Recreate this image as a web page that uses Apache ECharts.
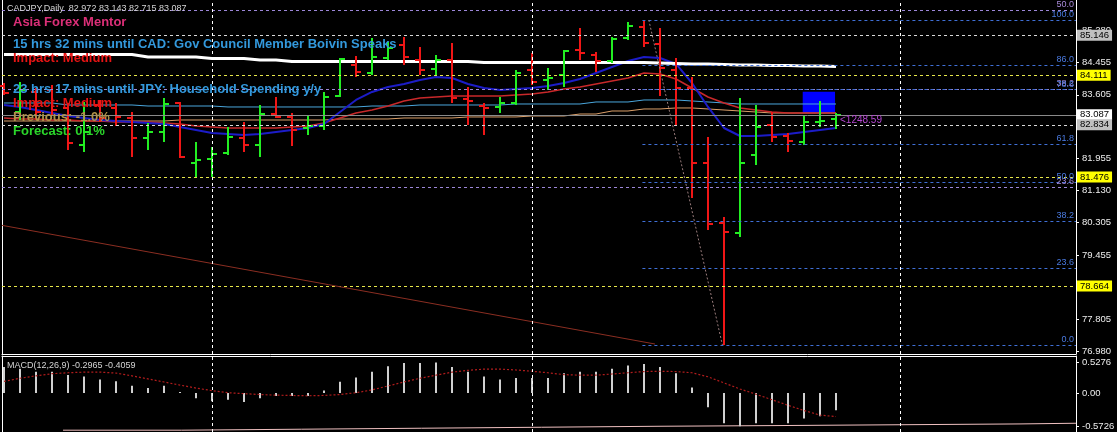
<!DOCTYPE html>
<html><head><meta charset="utf-8">
<script src="https://cdn.jsdelivr.net/npm/echarts@6/dist/echarts.min.js"></script>
<style>html,body{margin:0;padding:0;background:#000;}#c{width:1117px;height:432px;}</style>
</head><body><div id="c"></div>
<script>
// ---------- DATA ----------
const opens  = [83.835,83.162,83.680,83.731,83.266,82.309,83.343,83.266,83.007,82.490,82.645,83.395,81.843,81.946,82.102,82.490,82.309,83.110,83.033,82.748,82.800,83.576,84.378,84.171,84.559,84.895,84.507,84.274,84.507,83.498,83.317,83.292,83.395,84.249,83.990,84.119,84.766,84.637,84.481,85.076,85.361,84.921,84.249,83.783,81.843,80.291,80.032,82.050,82.826,82.541,82.386,82.904,82.972];
const highs  = [83.912,83.938,83.783,83.861,83.395,83.421,83.473,83.395,83.162,82.878,83.524,83.421,82.386,82.257,82.774,82.904,83.343,83.550,83.136,83.085,83.680,84.559,84.611,85.076,84.973,85.102,84.844,84.637,84.947,83.809,83.395,83.550,84.249,84.688,84.300,84.766,85.335,84.714,85.102,85.490,85.542,85.335,84.559,84.068,82.516,80.446,83.524,83.343,83.162,82.619,83.085,83.447,83.143];
const lows   = [83.602,82.955,82.955,83.085,82.179,82.128,82.904,82.800,81.998,82.179,82.386,81.972,81.455,81.481,82.050,82.128,81.998,83.007,82.283,82.567,82.697,83.550,84.068,84.119,84.507,84.378,84.119,84.119,83.395,82.826,82.567,83.136,83.343,83.861,83.731,83.809,84.507,84.197,84.430,85.025,84.844,83.576,82.826,80.938,80.110,77.135,79.929,81.791,82.386,82.128,82.309,82.774,82.715];
const closes = [83.654,83.731,83.162,83.214,82.360,82.645,83.007,83.033,82.490,82.645,83.369,81.998,81.921,82.076,82.516,82.309,83.110,83.033,82.697,82.800,83.550,84.533,84.197,84.585,84.818,84.585,84.249,84.507,83.524,83.447,83.266,83.395,84.171,83.938,84.042,84.740,84.688,84.481,85.051,85.387,84.947,84.300,83.783,81.843,80.265,80.058,81.843,82.774,82.516,82.412,82.904,82.929,83.087];

const maWhite  = [84.650,84.650,84.650,84.650,84.650,84.650,84.650,84.650,84.650,84.585,84.585,84.585,84.585,84.546,84.546,84.546,84.507,84.507,84.469,84.469,84.469,84.469,84.469,84.469,84.469,84.469,84.469,84.469,84.469,84.469,84.443,84.443,84.443,84.443,84.443,84.443,84.443,84.443,84.443,84.443,84.443,84.430,84.417,84.404,84.404,84.391,84.378,84.378,84.365,84.365,84.352,84.352,84.339];
const maBlue   = [83.343,83.292,83.214,83.136,83.059,83.007,82.955,82.929,82.904,82.878,82.852,82.774,82.697,82.619,82.593,82.567,82.593,82.645,82.697,82.748,82.852,83.162,83.473,83.680,83.809,83.886,83.990,84.068,84.042,83.886,83.783,83.731,83.757,83.783,83.835,83.912,84.016,84.171,84.326,84.481,84.585,84.559,84.404,83.912,83.292,82.748,82.541,82.541,82.567,82.593,82.645,82.697,82.748];
const maRed    = [83.007,82.981,82.981,82.955,82.955,82.929,82.929,82.904,82.904,82.904,82.878,82.852,82.800,82.774,82.748,82.748,82.748,82.748,82.774,82.800,82.878,83.007,83.136,83.214,83.317,83.447,83.524,83.550,83.576,83.576,83.576,83.576,83.602,83.628,83.680,83.757,83.809,83.886,83.964,84.042,84.171,84.145,84.016,83.783,83.550,83.395,83.266,83.214,83.162,83.136,83.136,83.136,83.136];
const maCyan   = [83.395,83.395,83.395,83.395,83.343,83.343,83.343,83.343,83.343,83.317,83.317,83.317,83.317,83.317,83.292,83.292,83.292,83.292,83.292,83.292,83.292,83.292,83.292,83.317,83.317,83.317,83.343,83.343,83.343,83.343,83.343,83.343,83.369,83.369,83.369,83.369,83.369,83.421,83.421,83.421,83.473,83.473,83.473,83.447,83.421,83.395,83.369,83.369,83.369,83.369,83.369,83.369,83.369];
const maOrange = [82.929,82.929,82.929,82.929,82.929,82.929,82.929,82.929,82.929,82.929,82.929,82.955,82.955,82.955,82.955,82.955,82.955,82.955,82.955,82.955,82.955,82.981,82.981,82.981,82.981,83.007,83.007,83.007,83.007,83.033,83.033,83.033,83.033,83.059,83.059,83.059,83.110,83.110,83.188,83.188,83.240,83.240,83.266,83.266,83.240,83.214,83.188,83.162,83.136,83.136,83.136,83.136,83.136];

const macdHist   = [0.447,0.420,0.366,0.366,0.312,0.286,0.231,0.204,0.124,0.086,0.124,0.016,-0.089,-0.140,-0.114,-0.156,-0.089,-0.052,-0.052,-0.052,0.043,0.194,0.269,0.366,0.463,0.517,0.517,0.5276,0.447,0.366,0.286,0.231,0.259,0.259,0.259,0.339,0.366,0.366,0.420,0.474,0.500,0.447,0.339,0.097,-0.245,-0.521,-0.5726,-0.521,-0.521,-0.521,-0.438,-0.401,-0.2965];
const macdSignal = [0.201,0.254,0.296,0.333,0.349,0.360,0.360,0.344,0.296,0.243,0.190,0.137,0.085,0.042,0.005,-0.011,-0.026,-0.037,-0.042,-0.048,-0.042,-0.026,0.005,0.053,0.122,0.190,0.254,0.307,0.360,0.391,0.412,0.412,0.397,0.375,0.349,0.317,0.307,0.307,0.328,0.349,0.370,0.375,0.370,0.349,0.280,0.174,0.069,-0.021,-0.116,-0.211,-0.301,-0.381,-0.4059];
const lowerStepBars   = [3.69,11.1,18.6,26.1,33.6,41.0,48.5,56.0,63.5,67];
const lowerStepValues = [-0.641,-0.624,-0.607,-0.590,-0.573,-0.561,-0.547,-0.533,-0.521,-0.521];

const priceTicks = [76.980,77.805,78.630,79.455,80.305,81.130,81.955,82.780,83.605,84.455,85.280];
const macdTicks  = [0.5276,0,-0.5726];

const levelPrices = [85.146,84.111,83.087,82.834,81.476,78.664];
const levelKinds  = ['gray','yellow','bid','gray','yellow','yellow'];

const fibBlueLabels = ['0.0','23.6','38.2','50.0','61.8','78.6','86.0','100.0'];
const fibBluePrices = [77.135,79.119,80.346,81.339,82.331,83.743,84.365,85.542];
const fibStartBar = 39.9;
const fibPurpleLabels = ['23.6','38.2','50.0'];
const fibPurplePrices = [81.222,83.751,85.795];

const trendLine   = [[-0.125,80.23],[40.69,77.16]];
const fibDiagonal = [[40.3,85.542],[44.9,77.135]];
const verticalLineBars = [13,33,56];
const rectangle = [[49.92,83.687],[51.94,83.129]];
const distanceLabel = {bar:52.25, price:82.955, text:'<1248.59'};

const headerText = 'CADJPY,Daily  82.972 83.143 82.715 83.087';
const macdText = 'MACD(12,26,9) -0.2965 -0.4059';
const overlayTexts = [
  ['Asia Forex Mentor','brand'],
  ['15 hrs 32 mins until CAD: Gov Council Member Boivin Speaks','event'],
  ['Impact: Medium','impact'],
  ['23 hrs 17 mins until JPY: Household Spending y/y','event'],
  ['Impact: Medium','impact'],
  ['Previous: -1.0%','prev'],
  ['Forecast: 0.1%','fcst']
];

// ---------- CHART ----------
const FONT = '"Liberation Sans", Arial, sans-serif';
const barIdx = opens.map((_, i) => i);
const X_MIN = -0.125, X_MAX = 67;

const ohlc = barIdx.map(i => [i, opens[i], highs[i], lows[i], closes[i]]);
const toXY = arr => arr.map((v, i) => [barIdx[i], v]);

const kindStyle = {
  gray:   {line:'#d8d8d8', type:[3,3], box:'#c0c0c0'},
  yellow: {line:'#e6e64a', type:[3,3], box:'#ffff00'},
  bid:    {line:'#8a8a8a', type:'solid', box:'#ffffff'}
};

const levelMarks = levelPrices.map((p, k) => {
  const s = kindStyle[levelKinds[k]];
  return {
    yAxis: p,
    lineStyle: {color: s.line, type: s.type, width: 1},
    label: {show: true, position: 'end', distance: 1, formatter: p.toFixed(3),
      backgroundColor: s.box, color: '#000', fontSize: 9.5, fontFamily: FONT,
      padding: [1, 3, 0, 3]}
  };
});
const fibBlueMarks = fibBluePrices.map((p, k) => [
  {coord: [fibStartBar, p], lineStyle: {color: '#3f6fd6', type: [3,3], width: 1},
   label: {show: true, position: 'insideEndTop', distance: [2, 1], formatter: fibBlueLabels[k],
     color: '#4a7ae0', fontSize: 9, fontFamily: FONT}},
  {coord: [X_MAX, p]}
]);
const fibPurpleMarks = fibPurplePrices.map((p, k) => ({
  yAxis: p, lineStyle: {color: '#9c86d8', type: [3,3], width: 1},
  label: {show: true, position: 'insideEndTop', distance: [2, 1], formatter: fibPurpleLabels[k],
    color: '#a88ad8', fontSize: 9, fontFamily: FONT}
}));
const trendMarks = [
  [{coord: trendLine[0], lineStyle: {color: '#8b2e22', width: 1, type: 'solid'}, label: {show: false}}, {coord: trendLine[1]}],
  [{coord: fibDiagonal[0], lineStyle: {color: '#9a7c7c', width: 1, type: [2,2]}, label: {show: false}}, {coord: fibDiagonal[1]}]
];
const vertMarks = verticalLineBars.map(b => ({xAxis: b, lineStyle: {color: '#ffffff', type: [3,3], width: 1}, label: {show: false}}));

function maSeries(name, arr, color, width, z) {
  return {name, type: 'line', xAxisIndex: 0, yAxisIndex: 0, data: toXY(arr), showSymbol: false,
    symbol: 'none', lineStyle: {color, width}, z, silent: true};
}

const overlayStyle = {
  brand:  {fill: '#dc2f78', font: 'bold 13px ' + FONT},
  event:  {fill: '#3399dd', font: 'bold 13px ' + FONT},
  impact: {fill: '#e81414', font: 'bold 13px ' + FONT},
  prev:   {fill: '#b0934a', font: 'bold 13px ' + FONT},
  fcst:   {fill: '#2ad62a', font: 'bold 13px ' + FONT}
};
const overlayY = [22, 44, 58, 89, 103, 117, 131];

const graphics = [
  {type: 'text', x: 7, y: 9, z: 100, style: {text: headerText, fill: '#d4d4d4', font: '9px ' + FONT, verticalAlign: 'middle'}},
  {type: 'text', x: 7, y: 366, z: 100, style: {text: macdText, fill: '#d4d4d4', font: '9px ' + FONT, verticalAlign: 'middle'}}
].concat(overlayTexts.map((t, k) => ({
  type: 'text', x: 13, y: overlayY[k], z: 100,
  style: Object.assign({text: t[0], verticalAlign: 'middle'}, overlayStyle[t[1]])
})));

const chart = echarts.init(document.getElementById('c'), null, {renderer: 'canvas'});
chart.setOption({
  backgroundColor: '#000',
  animation: false,
  textStyle: {fontFamily: FONT},
  grid: [
    {left: 2, right: 41, top: 0, height: 354, containLabel: false, outerBoundsMode: 'none'},
    {left: 2, right: 41, top: 356, height: 76, containLabel: false, outerBoundsMode: 'none'}
  ],
  xAxis: [
    {type: 'value', gridIndex: 0, min: X_MIN, max: X_MAX, position: 'bottom',
     axisLine: {show: true, onZero: false, lineStyle: {color: '#fff', width: 1}},
     axisTick: {show: false}, axisLabel: {show: false}, splitLine: {show: false}},
    {type: 'value', gridIndex: 1, min: X_MIN, max: X_MAX, position: 'top',
     axisLine: {show: true, onZero: false, lineStyle: {color: '#fff', width: 1}},
     axisTick: {show: false}, axisLabel: {show: false}, splitLine: {show: false}}
  ],
  yAxis: [
    {type: 'value', gridIndex: 0, position: 'right', min: 76.902, max: 86.059, scale: true,
     axisLine: {show: true, onZero: false, lineStyle: {color: '#fff'}},
     axisTick: {show: true, length: 3, customValues: priceTicks, lineStyle: {color: '#fff'}},
     axisLabel: {show: true, customValues: priceTicks, formatter: v => v.toFixed(3),
       color: '#eeeeee', fontSize: 9.5, fontFamily: FONT, margin: 6},
     splitLine: {show: false}},
    {type: 'value', gridIndex: 1, position: 'right', min: -0.672, max: 0.638,
     axisLine: {show: true, onZero: false, lineStyle: {color: '#fff'}},
     axisTick: {show: true, length: 3, customValues: macdTicks, lineStyle: {color: '#fff'}},
     axisLabel: {show: true, customValues: macdTicks, formatter: v => (v === 0 ? '0.00' : v.toFixed(4)),
       color: '#eeeeee', fontSize: 9.5, fontFamily: FONT, margin: 6},
     splitLine: {show: false}},
    {type: 'value', gridIndex: 0, position: 'left', min: 76.902, max: 86.059,
     axisLine: {show: true, onZero: false, lineStyle: {color: '#fff'}},
     axisTick: {show: false}, axisLabel: {show: false}, splitLine: {show: false}},
    {type: 'value', gridIndex: 1, position: 'left', min: -0.672, max: 0.638,
     axisLine: {show: true, onZero: false, lineStyle: {color: '#fff'}},
     axisTick: {show: false}, axisLabel: {show: false}, splitLine: {show: false}}
  ],
  series: [
    {name: 'levels', type: 'line', xAxisIndex: 0, yAxisIndex: 0, data: [], z: 1, silent: true,
     markArea: {silent: true, itemStyle: {color: '#0000ff', opacity: 1},
       data: [[{coord: rectangle[0]}, {coord: rectangle[1]}]]},
     markLine: {silent: true, symbol: ['none', 'none'], animation: false,
       data: [].concat(levelMarks, fibPurpleMarks, fibBlueMarks, trendMarks, vertMarks)}},
    maSeries('maOrange', maOrange, '#dca06a', 1, 2),
    maSeries('maCyan', maCyan, '#4aa6dc', 1, 2),
    maSeries('maRed', maRed, '#c8282a', 1.5, 2),
    maSeries('maBlue', maBlue, '#1c1cc8', 2, 2),
    Object.assign(maSeries('maWhite', maWhite, '#ffffff', 3, 2), {
      markPoint: {silent: true, symbol: 'circle', symbolSize: 0,
        data: [{coord: [distanceLabel.bar, distanceLabel.price],
          label: {show: true, position: 'right', distance: 0, formatter: distanceLabel.text,
            color: '#b445d0', fontSize: 10, fontFamily: FONT}}]}
    }),
    {name: 'CADJPY', type: 'custom', xAxisIndex: 0, yAxisIndex: 0, z: 3, silent: true,
     data: ohlc, encode: {x: 0, y: [1, 2, 3, 4]},
     renderItem: (params, api) => {
       const x = api.value(0);
       const o = api.coord([x, api.value(1)]);
       const h = api.coord([x, api.value(2)]);
       const l = api.coord([x, api.value(3)]);
       const c = api.coord([x, api.value(4)]);
       const col = api.value(4) >= api.value(1) ? '#22ee22' : '#f01616';
       const px = Math.round(h[0]);
       const st = {stroke: col, lineWidth: 2};
       return {type: 'group', children: [
         {type: 'line', shape: {x1: px, y1: Math.round(h[1]), x2: px, y2: Math.round(l[1])}, style: st},
         {type: 'line', shape: {x1: px - 5, y1: Math.round(o[1]), x2: px, y2: Math.round(o[1])}, style: st},
         {type: 'line', shape: {x1: px, y1: Math.round(c[1]), x2: px + 5, y2: Math.round(c[1])}, style: st}
       ]};
     }},
    {name: 'MACD', type: 'custom', xAxisIndex: 1, yAxisIndex: 1, z: 3, silent: true,
     data: toXY(macdHist), encode: {x: 0, y: 1},
     renderItem: (params, api) => {
       const p = api.coord([api.value(0), api.value(1)]);
       const z0 = api.coord([api.value(0), 0]);
       const px = Math.round(p[0]);
       return {type: 'rect', shape: {x: px - 1, y: Math.min(p[1], z0[1]), width: 2, height: Math.abs(p[1] - z0[1])},
         style: {fill: '#d0d0d0'}};
     },
     markLine: {silent: true, symbol: ['none', 'none'], animation: false, data: vertMarks}},
    {name: 'Signal', type: 'line', xAxisIndex: 1, yAxisIndex: 1, data: toXY(macdSignal), showSymbol: false, symbol: 'none',
     lineStyle: {color: '#b01c1c', width: 1.2, type: [2, 2]}, z: 4, silent: true},
    {name: 'lower', type: 'line', xAxisIndex: 1, yAxisIndex: 1, step: 'end',
     data: lowerStepBars.map((b, k) => [b, lowerStepValues[k]]), showSymbol: false, symbol: 'none',
     lineStyle: {color: '#f0c0c0', width: 1}, z: 2, silent: true}
  ],
  graphic: graphics
});
</script>
</body></html>
